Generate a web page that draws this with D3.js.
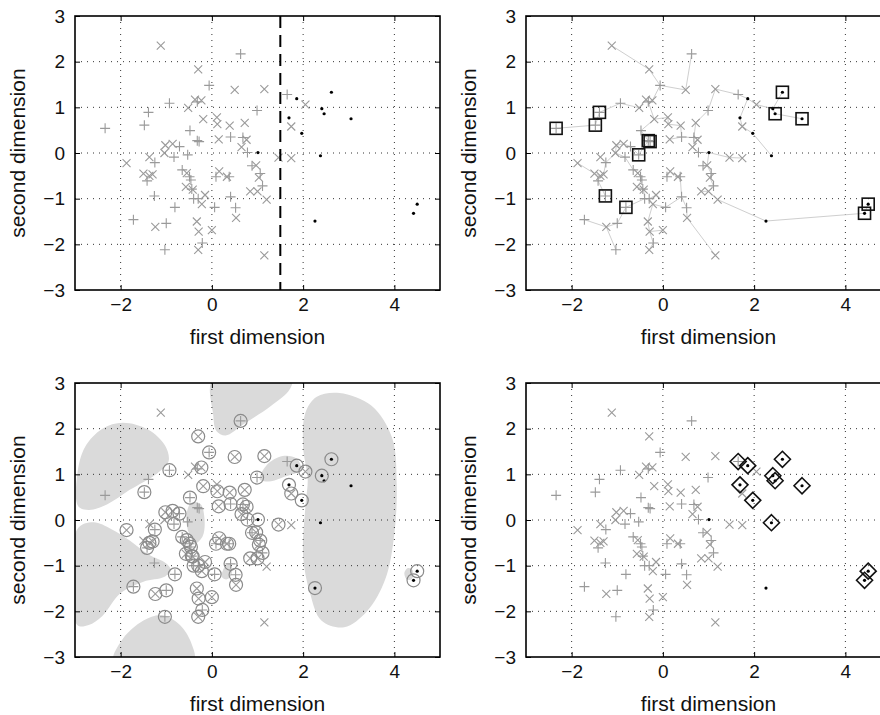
<!DOCTYPE html>
<html>
<head>
<meta charset="utf-8">
<script src="https://cdn.jsdelivr.net/npm/d3@7"></script>
<style>
body{margin:0;background:#fff}
text{font-family:"Liberation Sans",Arial,Helvetica,sans-serif}
</style>
</head>
<body>
<svg id="chart" width="880" height="715"></svg>
<script>
// class "+" points
var plusX = [-2.34,-1.48,-1.39,-0.93,-0.06,0.63,0.99,1.65,-0.32,-0.48,-0.32,-0.28,0.41,0.68,0.78,-0.71,-0.53,-0.83,-1.25,-1.42,
             -0.65,-0.49,-0.46,-0.44,-0.40,-0.30,0.06,0.09,0.38,0.41,0.52,0.88,1.06,1.11,-1.26,-0.81,-1.72,-1.00,-1.03,-0.21];
var plusY = [0.54,0.61,0.89,1.09,1.48,2.17,0.93,1.28,1.12,0.49,0.27,0.25,0.35,0.34,0.01,0.14,-0.04,-0.09,-0.21,-0.61,
             -0.37,-0.52,-0.59,-0.79,-1.00,-1.00,-1.19,-0.52,-0.52,-0.96,-1.20,-0.28,-0.45,-0.72,-0.94,-1.19,-1.46,-1.54,-2.12,-1.97];
// class "x" points
var crossX = [-1.12,-0.30,0.50,1.15,-0.37,-0.23,-0.52,-0.19,0.11,0.12,0.39,0.72,2.05,1.74,0.15,0.76,0.65,1.46,1.74,-1.02,
              -0.86,-1.04,-1.37,-1.87,-1.50,-1.37,-1.30,-0.55,-0.57,-0.42,-0.15,-0.22,0.16,0.33,0.97,1.03,0.84,1.00,1.20,0.53,
              -1.24,-0.33,-0.29,0.00,-0.30,1.15];
var crossY = [2.35,1.83,1.38,1.40,1.17,1.15,0.99,0.74,0.78,0.63,0.60,0.66,1.06,0.58,0.30,0.29,0.13,-0.10,-0.11,0.17,
              0.20,0.00,-0.09,-0.22,-0.45,-0.50,-0.47,-0.44,-0.74,-0.80,-0.92,-1.12,-0.40,-0.52,-0.27,-0.54,-0.84,-0.84,-1.02,-1.42,
              -1.62,-1.50,-1.72,-1.69,-2.12,-2.24];
// class "." points
var dotX = [1.86,2.62,2.41,2.46,1.69,1.97,1.01,2.38,2.26,3.05,4.42,4.50];
var dotY = [1.19,1.33,0.97,0.86,0.77,0.43,0.01,-0.06,-1.49,0.75,-1.32,-1.12];

// ticks
var xTicks = [-2,0,2,4];
var yTicks = [-3,-2,-1,0,1,2,3];
var gridY = [-2,-1,0,1,2];

// panel 1: threshold
var threshold = 1.5;
// panel 2: prototypes (indices)
var protoPlus = [0,1,2,10,11,16,34,35];
var protoDot = [1,3,9,10,11];
// panel 3: points not circled (indices)
var plainPlus = [0,2,7,8,10,11,16,34];
var plainCross = [0,4,6,8,18,21,22,24,38,45];
var plainDot = [3,7,9];
// panel 3: shaded regions (outline in data units)
var regionA = [[-2.93,0.3],[-2.95,1.0],[-2.78,1.6],[-2.4,2.0],[-1.95,2.13],[-1.4,1.98],[-1.02,1.62],[-0.95,1.28],[-1.2,1.02],[-1.8,0.66],[-2.3,0.34],[-2.7,0.22]];
var regionB = [[0.03,3.1],[0.03,2.3],[0.1,1.95],[0.3,1.85],[0.7,2.1],[1.3,2.5],[1.7,2.85],[1.75,3.1]];
var regionC = [[2.05,2.35],[2.3,2.7],[2.8,2.78],[3.5,2.5],[3.95,1.8],[4.05,0.8],[4.0,-0.3],[3.8,-1.3],[3.4,-2.0],[2.9,-2.35],[2.4,-2.2],[2.15,-1.6],[2.0,-0.8],[2.05,0.3],[2.1,0.9],[2.0,1.6]];
var regionD = [[1.05,0.88],[1.2,1.2],[1.55,1.4],[1.85,1.35],[1.95,1.1],[1.6,0.95],[1.3,0.85]];
var regionE = [[-0.56,0.1],[-0.45,0.38],[-0.25,0.35],[-0.16,0.0],[-0.2,-0.35],[-0.35,-0.5],[-0.5,-0.3]];
var regionF = [[-2.95,-0.2],[-2.6,-0.05],[-2.2,-0.2],[-1.8,-0.45],[-1.4,-0.75],[-1.0,-0.95],[-0.9,-1.1],[-1.05,-1.25],[-1.5,-1.35],[-2.0,-1.6],[-2.4,-2.1],[-2.7,-2.3],[-2.95,-2.3]];
var regionG = [[-2.15,-3.1],[-1.95,-2.6],[-1.5,-2.2],[-1.1,-2.08],[-0.7,-2.3],[-0.45,-2.7],[-0.4,-3.1]];
var regionH = [[0.22,-1.25],[0.3,-1.0],[0.42,-0.98],[0.43,-1.2],[0.33,-1.3]];
var regionI = [[4.22,-1.15],[4.3,-1.05],[4.4,-1.1],[4.38,-1.3],[4.27,-1.3]];
var regions = [regionA,regionB,regionC,regionD,regionE,regionF,regionG,regionH,regionI];

var W = 365, H = 274;
var GRAY = "#9a9a9a";
var svg = d3.select("#chart");

var pts = [];
plusX.forEach(function(v,i){ pts.push({x:v, y:plusY[i], c:"plus", i:i}); });
crossX.forEach(function(v,i){ pts.push({x:v, y:crossY[i], c:"cross", i:i}); });
dotX.forEach(function(v,i){ pts.push({x:v, y:dotY[i], c:"dot", i:i}); });

function fmt(d){ return d < 0 ? "\u2212" + Math.abs(d) : "" + d; }

function makePanel(left, top, id){
	var x = d3.scaleLinear().domain([-3,5]).range([0,W]);
	var y = d3.scaleLinear().domain([-3,3]).range([H,0]);
	var g = svg.append("g").attr("transform","translate("+left+","+top+")");
	svg.append("clipPath").attr("id","clip"+id)
		.append("rect").attr("width",W).attr("height",H);
	var back = g.append("g").attr("clip-path","url(#clip"+id+")");
	var grid = g.append("g");
	var front = g.append("g").attr("clip-path","url(#clip"+id+")");
	return {g:g, back:back, grid:grid, front:front, x:x, y:y};
}

function drawFrame(p){
	var g = p.grid;
	// dotted grid
	g.append("g").selectAll("line").data(xTicks).enter().append("line")
		.attr("x1",function(d){return p.x(d);}).attr("x2",function(d){return p.x(d);})
		.attr("y1",0).attr("y2",H)
		.attr("stroke","#333").attr("stroke-width",1).attr("stroke-dasharray","1,5");
	g.append("g").selectAll("line").data(gridY).enter().append("line")
		.attr("y1",function(d){return p.y(d);}).attr("y2",function(d){return p.y(d);})
		.attr("x1",0).attr("x2",W)
		.attr("stroke","#333").attr("stroke-width",1).attr("stroke-dasharray","1,5");

	p.g.append("g").attr("transform","translate(0,"+H+")")
		.call(d3.axisBottom(p.x).tickValues(xTicks).tickSize(-5).tickPadding(8).tickFormat(fmt));
	p.g.append("g")
		.call(d3.axisLeft(p.y).tickValues(yTicks).tickSize(-5).tickPadding(10).tickFormat(fmt));
	p.g.append("g").call(d3.axisTop(p.x).tickValues(xTicks).tickSize(-5).tickFormat(""));
	p.g.append("g").attr("transform","translate("+W+",0)")
		.call(d3.axisRight(p.y).tickValues(yTicks).tickSize(-5).tickFormat(""));
	p.g.selectAll(".domain").remove();
	p.g.selectAll(".tick line").attr("stroke","#000");
	p.g.selectAll(".tick text").attr("fill","#111").style("font-size","19px");

	p.g.append("rect").attr("width",W).attr("height",H)
		.attr("fill","none").attr("stroke","#000").attr("stroke-width",1.6);

	p.g.append("text").attr("x",W/2).attr("y",H+54)
		.attr("text-anchor","middle").style("font-size","21px").attr("fill","#111")
		.text("first dimension");
	p.g.append("text").attr("transform","translate(-50,"+(H/2)+") rotate(-90)")
		.attr("text-anchor","middle").style("font-size","21px").attr("fill","#111")
		.text("second dimension");
}

function drawPoints(p, layer){
	var sel = layer.selectAll("g.pt").data(pts).enter().append("g")
		.attr("transform",function(d){return "translate("+p.x(d.x)+","+p.y(d.y)+")";});
	sel.filter(function(d){return d.c=="plus";}).append("path")
		.attr("d","M-5,0H5M0,-5V5").attr("stroke",GRAY).attr("stroke-width",1.1).attr("fill","none");
	sel.filter(function(d){return d.c=="cross";}).append("path")
		.attr("d","M-4,-4L4,4M-4,4L4,-4").attr("stroke",GRAY).attr("stroke-width",1.1).attr("fill","none");
	sel.filter(function(d){return d.c=="dot";}).append("circle")
		.attr("r",1.6).attr("fill","#000");
}

// ---------- panel 1 ----------
var p1 = makePanel(75,16,1);
drawFrame(p1);
drawPoints(p1, p1.front);
p1.front.append("line")
	.attr("x1",p1.x(threshold)).attr("x2",p1.x(threshold))
	.attr("y1",p1.y(3)).attr("y2",p1.y(-3))
	.attr("stroke","#000").attr("stroke-width",2).attr("stroke-dasharray","12,7");

// ---------- panel 2 ----------
var p2 = makePanel(526,16,2);
drawFrame(p2);
// minimum spanning tree over all points
var inTree = pts.map(function(){return false;});
var best = pts.map(function(){return Infinity;});
var parent = pts.map(function(){return -1;});
best[0] = 0;
var edges = [];
for(var k=0;k<pts.length;k++){
	var u=-1;
	for(var j=0;j<pts.length;j++){ if(!inTree[j] && (u<0 || best[j]<best[u])) u=j; }
	inTree[u]=true;
	if(parent[u]>=0) edges.push([pts[parent[u]], pts[u]]);
	for(var j=0;j<pts.length;j++){
		if(inTree[j]) continue;
		var dd = Math.hypot(pts[u].x-pts[j].x, pts[u].y-pts[j].y);
		if(dd<best[j]){ best[j]=dd; parent[j]=u; }
	}
}
p2.front.selectAll("line.edge").data(edges).enter().append("line")
	.attr("x1",function(d){return p2.x(d[0].x);}).attr("y1",function(d){return p2.y(d[0].y);})
	.attr("x2",function(d){return p2.x(d[1].x);}).attr("y2",function(d){return p2.y(d[1].y);})
	.attr("stroke","#cfcfcf").attr("stroke-width",1);
drawPoints(p2, p2.front);
var protos = pts.filter(function(d){
	return (d.c=="plus" && protoPlus.indexOf(d.i)>=0) || (d.c=="dot" && protoDot.indexOf(d.i)>=0);
});
p2.front.selectAll("rect.proto").data(protos).enter().append("rect")
	.attr("x",function(d){return p2.x(d.x)-6;}).attr("y",function(d){return p2.y(d.y)-6;})
	.attr("width",12).attr("height",12)
	.attr("fill","none").attr("stroke","#111").attr("stroke-width",1.6);

// ---------- panel 3 ----------
var p3 = makePanel(75,383,3);
var area = d3.line().x(function(d){return p3.x(d[0]);}).y(function(d){return p3.y(d[1]);})
	.curve(d3.curveCatmullRomClosed.alpha(0.5));
p3.back.selectAll("path.reg").data(regions).enter().append("path")
	.attr("d",area).attr("fill","#dadada").attr("stroke","none");
drawFrame(p3);
drawPoints(p3, p3.front);
var circled = pts.filter(function(d){
	if(d.c=="plus") return plainPlus.indexOf(d.i)<0;
	if(d.c=="cross") return plainCross.indexOf(d.i)<0;
	return plainDot.indexOf(d.i)<0;
});
p3.front.selectAll("circle.sv").data(circled).enter().append("circle")
	.attr("cx",function(d){return p3.x(d.x);}).attr("cy",function(d){return p3.y(d.y);})
	.attr("r",6.5).attr("fill","none").attr("stroke","#8a8a8a").attr("stroke-width",1.2);

// ---------- panel 4 ----------
var p4 = makePanel(526,383,4);
drawFrame(p4);
drawPoints(p4, p4.front);
var marked = pts.filter(function(d){
	return (d.c=="dot" && d.i!=6 && d.i!=8) || (d.c=="plus" && d.i==7);
});
p4.front.selectAll("path.dia").data(marked).enter().append("path")
	.attr("transform",function(d){return "translate("+p4.x(d.x)+","+p4.y(d.y)+")";})
	.attr("d","M0,-8L8,0L0,8L-8,0Z")
	.attr("fill","none").attr("stroke","#111").attr("stroke-width",1.6);
</script>
</body>
</html>
